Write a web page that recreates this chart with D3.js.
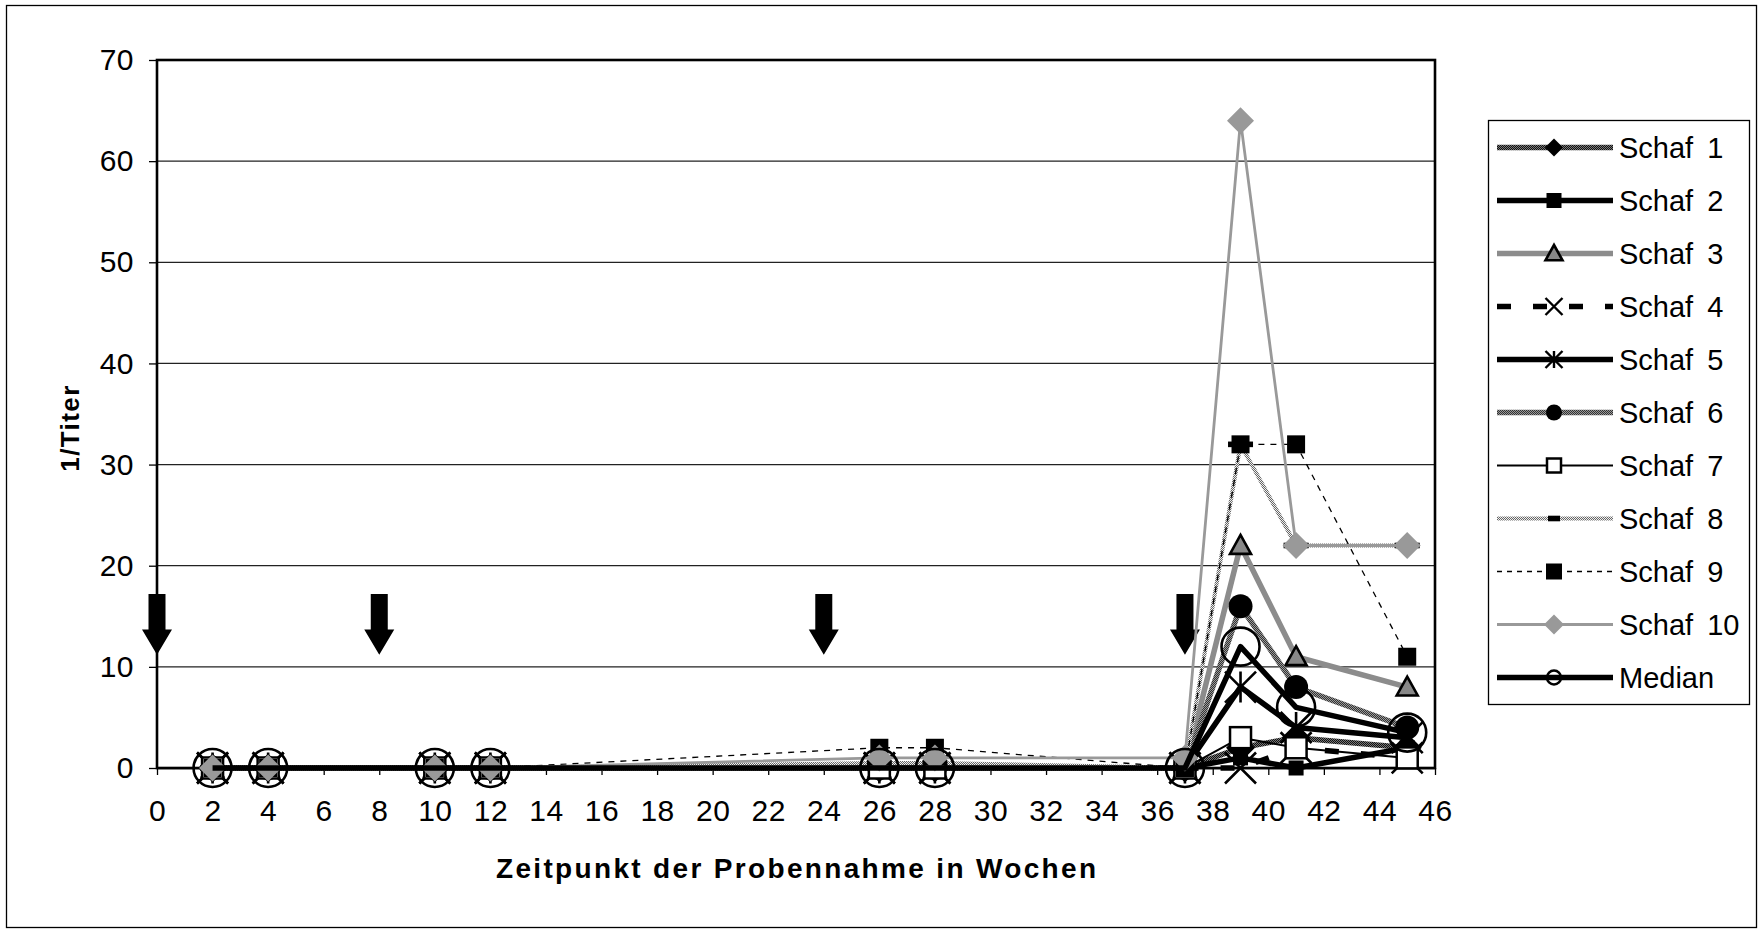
<!DOCTYPE html>
<html>
<head>
<meta charset="utf-8">
<script src="https://cdn.jsdelivr.net/npm/d3@7"></script>
<style>
  body { margin: 0; background: #fff; }
  text { font-family: "Liberation Sans", Arial, sans-serif; fill: #000; }
</style>
</head>
<body>
<svg id="chart" width="1762" height="933"></svg>
<script>
'use strict';

// sampling weeks and 1/titer per sheep
var weeks   = [2, 4, 10, 12, 26, 28, 37, 39, 41, 45];
var schaf1  = [0, 0, 0, 0, 0, 0, 0, 2, 3, 2];
var schaf2  = [0, 0, 0, 0, 0, 0, 0, 1, 0, 2];
var schaf3  = [0, 0, 0, 0, 0, 0, 0, 22, 11, 8];
var schaf4  = [0, 0, 0, 0, 0, 0, 0, 0, 2, 1];
var schaf5  = [0, 0, 0, 0, 0, 0, 0, 8, 4, 3];
var schaf6  = [0, 0, 0, 0, 0, 0, 0, 16, 8, 4];
var schaf7  = [0, 0, 0, 0, 0, 0, 0, 3, 2, 1];
var schaf8  = [0, 0, 0, 0, 0.5, 0.5, 0, 32, 22, 22];
var schaf9  = [0, 0, 0, 0, 2, 2, 0, 32, 32, 11];
var schaf10 = [0, 0, 0, 0, 1, 1, 1, 64, 22, 22];
var median  = [0, 0, 0, 0, 0, 0, 0, 12, 6, 3.5];
var seriesNames = ["Schaf 1", "Schaf 2", "Schaf 3", "Schaf 4", "Schaf 5", "Schaf 6",
                   "Schaf 7", "Schaf 8", "Schaf 9", "Schaf 10", "Median"];
var seriesValues = [schaf1, schaf2, schaf3, schaf4, schaf5, schaf6,
                    schaf7, schaf8, schaf9, schaf10, median];
var boosterWeeks = [0, 8, 24, 37];   // vaccination arrows
var xTicks = d3.range(0, 47, 2);
var yTicks = d3.range(0, 71, 10);

var svg = d3.select('#chart');

var margin = {top: 60, left: 157},
    chartWidth = 1278,
    chartHeight = 708;

// textures used by Excel's b/w line patterns
var defs = svg.append('defs');
function checker(id, bg, fg) {
  var p = defs.append('pattern')
    .attr('id', id).attr('patternUnits', 'userSpaceOnUse')
    .attr('width', 2).attr('height', 2);
  p.append('rect').attr('width', 2).attr('height', 2).attr('fill', bg);
  p.append('rect').attr('width', 1).attr('height', 1).attr('fill', fg);
  p.append('rect').attr('x', 1).attr('y', 1).attr('width', 1).attr('height', 1).attr('fill', fg);
}
checker('texDark', '#111', '#777');
checker('texMid', '#999', '#333');
checker('texLight', '#eee', '#666');

// line / marker style per series (index matches seriesNames)
var styles = [
  {stroke: 'url(#texDark)', width: 5.5, marker: 'diamond', fill: '#000', mStroke: 'none', size: 14.5, lsize: 9},
  {stroke: '#000', width: 5.5, marker: 'square', fill: '#000', mStroke: 'none', size: 7.5, lsize: 7.5},
  {stroke: '#8c8c8c', width: 5.5, marker: 'triangle', fill: '#888', mStroke: '#000', size: 10.5, lsize: 8.5},
  {stroke: '#000', width: 5.5, dash: '14,22', marker: 'x', fill: 'none', mStroke: '#000', size: 15.5, lsize: 8.5},
  {stroke: '#000', width: 5.5, marker: 'asterisk', fill: 'none', mStroke: '#000', size: 15.5, lsize: 8.5},
  {stroke: 'url(#texMid)', width: 5.5, marker: 'circle', fill: '#000', mStroke: 'none', size: 12, lsize: 8},
  {stroke: '#000', width: 2, marker: 'osquare', fill: '#fff', mStroke: '#000', size: 10.5, lsize: 7},
  {stroke: 'url(#texLight)', width: 4, marker: 'dash', fill: '#000', mStroke: 'none', size: 12.5, lsize: 6},
  {stroke: '#000', width: 1.3, dash: '6,6', marker: 'square', fill: '#000', mStroke: 'none', size: 9, lsize: 8},
  {stroke: '#999', width: 2.8, marker: 'diamond', fill: '#999', mStroke: 'none', size: 13.5, lsize: 10},
  {stroke: '#000', width: 5.5, marker: 'ocircle', fill: 'none', mStroke: '#000', size: 19, lsize: 7}
];

function drawMarker(g, type, cx, cy, s, st) {
  var m;
  if (type === 'diamond') {
    m = g.append('path').attr('d', 'M' + cx + ',' + (cy - s) + 'L' + (cx + s) + ',' + cy +
      'L' + cx + ',' + (cy + s) + 'L' + (cx - s) + ',' + cy + 'Z');
  } else if (type === 'square' || type === 'osquare') {
    m = g.append('rect').attr('x', cx - s).attr('y', cy - s).attr('width', 2 * s).attr('height', 2 * s);
  } else if (type === 'triangle') {
    m = g.append('path').attr('d', 'M' + cx + ',' + (cy - s) + 'L' + (cx + s) + ',' + (cy + s * 0.8) +
      'L' + (cx - s) + ',' + (cy + s * 0.8) + 'Z');
  } else if (type === 'x' || type === 'asterisk') {
    var d = 'M' + (cx - s) + ',' + (cy - s) + 'L' + (cx + s) + ',' + (cy + s) +
            'M' + (cx + s) + ',' + (cy - s) + 'L' + (cx - s) + ',' + (cy + s);
    if (type === 'asterisk') d += 'M' + cx + ',' + (cy - s) + 'L' + cx + ',' + (cy + s);
    m = g.append('path').attr('d', d).attr('stroke-width', s > 10 ? 2.6 : 2.4);
  } else if (type === 'circle' || type === 'ocircle') {
    m = g.append('circle').attr('cx', cx).attr('cy', cy).attr('r', s);
  } else if (type === 'dash') {
    m = g.append('rect').attr('x', cx - s).attr('y', cy - 2.8).attr('width', 2 * s).attr('height', 5.6);
  }
  m.attr('fill', st.fill).attr('stroke', st.mStroke);
  if (type === 'triangle') m.attr('stroke-width', 2.6);
  if (type === 'osquare') m.attr('stroke-width', 2.5);
  if (type === 'ocircle') m.attr('stroke-width', s > 10 ? 2.6 : 2.5);
}

// outer frame
svg.append('rect')
  .attr('x', 6.5).attr('y', 5.5).attr('width', 1750).attr('height', 922)
  .attr('fill', 'none').attr('stroke', '#000').attr('stroke-width', 1.3);

var chart = svg.append('g')
  .attr('transform', 'translate(' + margin.left + ',' + margin.top + ')');

var x = d3.scaleLinear().domain([0, 46]).range([0, chartWidth]);
var y = d3.scaleLinear().domain([0, 70]).range([chartHeight, 0]);

// gridlines
chart.append('g').selectAll('line')
  .data(yTicks.filter(function (t) { return t > 0 && t < 70; }))
  .enter().append('line')
  .attr('x1', 0).attr('x2', chartWidth)
  .attr('y1', function (d) { return y(d); }).attr('y2', function (d) { return y(d); })
  .attr('stroke', '#222').attr('stroke-width', 1.2);

var xAxis = d3.axisBottom(x).tickValues(xTicks).tickSize(7).tickPadding(25).tickSizeOuter(0);
var yAxis = d3.axisLeft(y).tickValues(yTicks).tickSize(8).tickPadding(15).tickSizeOuter(0);

var gx = chart.append('g').attr('transform', 'translate(0,' + chartHeight + ')').call(xAxis);
var gy = chart.append('g').call(yAxis);
[gx, gy].forEach(function (g) {
  g.selectAll('text')
    .style('font-size', '30px')
    .style('letter-spacing', '0.5px')
    .style('font-family', '"Liberation Sans", Arial, sans-serif')
    .attr('fill', '#000');
  g.selectAll('.tick line').attr('stroke', '#000').attr('stroke-width', 1.3);
});
gx.select('.domain').attr('stroke', '#000').attr('stroke-width', 1.5);
gy.select('.domain').remove();

// plot border
chart.append('rect')
  .attr('x', 0).attr('y', 0).attr('width', chartWidth).attr('height', chartHeight)
  .attr('fill', 'none').attr('stroke', '#000').attr('stroke-width', 2.6);

// arrows for vaccination dates
chart.append('g').selectAll('path')
  .data(boosterWeeks)
  .enter().append('path')
  .attr('d', function (w) {
    var cx = x(w), top = y(17.2), neck = y(13.7), tip = y(11.2);
    return 'M' + (cx - 8.5) + ',' + top + 'L' + (cx + 8.5) + ',' + top + 'L' + (cx + 8.5) + ',' + neck +
      'L' + (cx + 15) + ',' + neck + 'L' + cx + ',' + tip + 'L' + (cx - 15) + ',' + neck +
      'L' + (cx - 8.5) + ',' + neck + 'Z';
  })
  .attr('fill', '#000');

var line = d3.line()
  .x(function (d) { return x(d[0]); })
  .y(function (d) { return y(d[1]); });

seriesValues.forEach(function (vals, i) {
  var st = styles[i];
  var pts = weeks.map(function (w, j) { return [w, vals[j]]; });
  var g = chart.append('g');
  g.append('path')
    .datum(pts)
    .attr('d', line)
    .attr('fill', 'none')
    .attr('stroke', st.stroke)
    .attr('stroke-width', st.width)
    .attr('stroke-linejoin', 'round')
    .attr('stroke-dasharray', st.dash || null);
  pts.forEach(function (p) {
    drawMarker(g, st.marker, x(p[0]), y(p[1]), st.size, st);
  });
});

// legend
var legend = svg.append('g');
legend.append('rect')
  .attr('x', 1488.5).attr('y', 120.5).attr('width', 261).attr('height', 584)
  .attr('fill', '#fff').attr('stroke', '#000').attr('stroke-width', 1.3);

seriesNames.forEach(function (name, i) {
  var st = styles[i];
  var ly = 147.5 + i * 53;
  var g = legend.append('g');
  g.append('line')
    .attr('x1', 1497).attr('x2', 1613).attr('y1', ly).attr('y2', ly)
    .attr('stroke', st.stroke)
    .attr('stroke-width', st.width)
    .attr('stroke-dasharray', i === 8 ? '5,5' : (st.dash || null));
  drawMarker(g, st.marker, 1554, ly, st.lsize, st);
  g.append('text')
    .attr('x', 1619).attr('y', ly)
    .attr('dy', '0.36em')
    .style('font-size', '29px')
    .style('word-spacing', '6px')
    .text(name);
});

// axis titles
svg.append('text')
  .attr('x', 796).attr('y', 878)
  .attr('text-anchor', 'middle')
  .attr('textLength', 600)
  .attr('lengthAdjust', 'spacing')
  .style('font-size', '28px')
  .style('font-weight', 'bold')
  .text('Zeitpunkt der Probennahme in Wochen');

svg.append('text')
  .attr('transform', 'translate(79,428) rotate(-90)')
  .attr('text-anchor', 'middle')
  .style('font-size', '26px')
  .style('font-weight', 'bold')
  .style('letter-spacing', '1.4px')
  .text('1/Titer');
</script>
</body>
</html>
